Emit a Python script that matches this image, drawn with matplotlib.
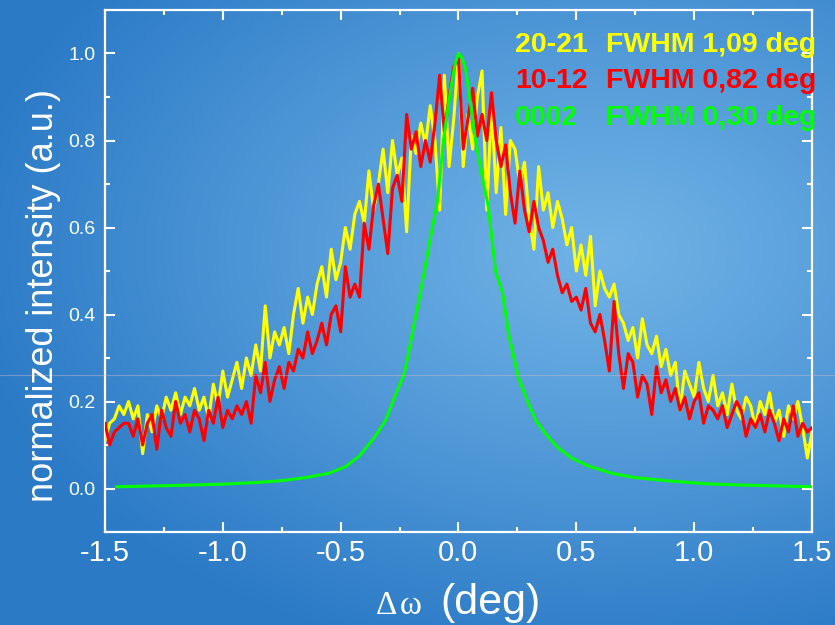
import numpy as np
import matplotlib
matplotlib.use("Agg")
import matplotlib.pyplot as plt
from matplotlib.lines import Line2D
from matplotlib.ticker import MultipleLocator

plt.rcParams["font.family"] = ["Liberation Sans", "DejaVu Sans"]
plt.rcParams["axes.unicode_minus"] = False

# omega offsets of the two broad scans (deg), step 0.02
x_scan = np.round(np.linspace(-1.5, 1.5, 151), 2)

# 20-21 reflection
y_2021 = [
    0.11, 0.15, 0.16, 0.19, 0.17, 0.20, 0.16, 0.19, 0.08, 0.17,
    0.13, 0.19, 0.16, 0.21, 0.18, 0.22, 0.17, 0.21, 0.19, 0.23,
    0.18, 0.21, 0.16, 0.24, 0.19, 0.27, 0.21, 0.25, 0.29, 0.23,
    0.30, 0.26, 0.33, 0.27, 0.42, 0.30, 0.36, 0.33, 0.37, 0.31,
    0.40, 0.46, 0.38, 0.44, 0.40, 0.47, 0.51, 0.44, 0.55, 0.48,
    0.52, 0.60, 0.55, 0.63, 0.66, 0.61, 0.73, 0.64, 0.70, 0.78,
    0.68, 0.80, 0.72, 0.76, 0.59, 0.81, 0.77, 0.84, 0.79, 0.88,
    0.80, 0.64, 0.95, 0.74, 0.85, 1.00, 0.74, 0.86, 0.78, 0.90,
    0.96, 0.64, 0.88, 0.68, 0.83, 0.63, 0.80, 0.78, 0.70, 0.75,
    0.62, 0.55, 0.74, 0.64, 0.68, 0.60, 0.66, 0.62, 0.56, 0.60,
    0.50, 0.56, 0.49, 0.58, 0.42, 0.50, 0.46, 0.44, 0.47, 0.40,
    0.38, 0.34, 0.37, 0.30, 0.39, 0.33, 0.31, 0.35, 0.28, 0.32,
    0.26, 0.29, 0.18, 0.27, 0.24, 0.21, 0.29, 0.23, 0.20, 0.26,
    0.19, 0.22, 0.17, 0.24, 0.18, 0.16, 0.21, 0.19, 0.14, 0.20,
    0.17, 0.22, 0.15, 0.18, 0.12, 0.19, 0.16, 0.20, 0.14, 0.07,
    0.13,
]

# 10-12 reflection
y_1012 = [
    0.15, 0.10, 0.13, 0.14, 0.15, 0.15, 0.12, 0.16, 0.10, 0.15,
    0.17, 0.09, 0.18, 0.14, 0.12, 0.20, 0.15, 0.17, 0.13, 0.18,
    0.16, 0.11, 0.18, 0.15, 0.21, 0.14, 0.18, 0.16, 0.19, 0.17,
    0.20, 0.15, 0.26, 0.22, 0.29, 0.20, 0.25, 0.28, 0.23, 0.29,
    0.27, 0.32, 0.30, 0.36, 0.31, 0.34, 0.38, 0.33, 0.40, 0.42,
    0.36, 0.51, 0.44, 0.47, 0.44, 0.61, 0.55, 0.65, 0.70, 0.62,
    0.54, 0.69, 0.72, 0.66, 0.86, 0.78, 0.82, 0.74, 0.80, 0.75,
    0.84, 0.95, 0.82, 0.90, 0.97, 0.99, 0.78, 0.85, 0.92, 0.81,
    0.86, 0.80, 0.91, 0.80, 0.74, 0.79, 0.68, 0.61, 0.73, 0.64,
    0.59, 0.66, 0.60, 0.57, 0.52, 0.55, 0.49, 0.45, 0.47, 0.43,
    0.44, 0.41, 0.46, 0.38, 0.36, 0.40, 0.34, 0.27, 0.43, 0.31,
    0.23, 0.31, 0.29, 0.21, 0.26, 0.24, 0.17, 0.28, 0.22, 0.25,
    0.20, 0.23, 0.18, 0.21, 0.16, 0.20, 0.22, 0.15, 0.19, 0.18,
    0.16, 0.19, 0.14, 0.17, 0.20, 0.18, 0.12, 0.16, 0.14, 0.17,
    0.13, 0.18, 0.15, 0.11, 0.16, 0.13, 0.19, 0.12, 0.15, 0.13,
    0.14,
]

# 0002 reflection (narrow)
x_0002 = [-1.45, -1.2, -1.0, -0.85, -0.75, -0.65, -0.55, -0.48, -0.42, -0.36,
          -0.31, -0.26, -0.233, -0.216, -0.195, -0.174, -0.148, -0.119, -0.089,
          -0.064, -0.034, -0.015, 0.0, 0.015, 0.03, 0.05, 0.072, 0.1, 0.127,
          0.157, 0.187, 0.212, 0.254, 0.297, 0.33, 0.369, 0.42, 0.48, 0.55,
          0.65, 0.75, 0.9, 1.05, 1.2, 1.35, 1.5]
y_0002 = [0.004, 0.007, 0.010, 0.014, 0.018, 0.025, 0.035, 0.050, 0.075, 0.115,
          0.156, 0.225, 0.26, 0.30, 0.36, 0.416, 0.49, 0.577, 0.66,
          0.80, 0.915, 0.975, 1.0, 0.99, 0.965, 0.89, 0.80, 0.72, 0.646,
          0.50, 0.45, 0.356, 0.255, 0.195, 0.155, 0.126, 0.095, 0.07, 0.052,
          0.035, 0.025, 0.017, 0.011, 0.008, 0.006, 0.004]

legend_rows = [("20-21", "FWHM 1,09 deg", "#ffff00"),
               ("10-12", "FWHM 0,82 deg", "#ff0000"),
               ("0002", "FWHM 0,30 deg", "#00ff00")]

fig = plt.figure(figsize=(8.35, 6.25), dpi=100)

# slide-like blue background
bg = fig.add_axes([0, 0, 1, 1], zorder=-10)
H, W = 625, 835
yy, xx = np.mgrid[0:H, 0:W]
d = np.clip(np.hypot((xx - 600) / 640, (yy - 250) / 420), 0, 1) ** 1.1
light = np.array([0.44, 0.70, 0.90])
dark = np.array([0.17, 0.48, 0.78])
img = light * (1 - d)[..., None] + dark * d[..., None]
bg.imshow(img, aspect="auto", extent=[0, 1, 0, 1], origin="upper")
bg.axis("off")
fig.add_artist(Line2D([0, 1], [0.4, 0.4], color="#d0b8c8", lw=0.8, alpha=0.45))

ax = fig.add_axes([0.1257, 0.1488, 0.8468, 0.8352])
ax.patch.set_alpha(0)
ax.plot(x_scan, y_2021, color="#ffff00", lw=2.2, zorder=3)
ax.plot(x_scan, y_1012, color="#ff0000", lw=2.2, zorder=4)
ax.plot(x_0002, y_0002, color="#00ff00", lw=2.2, zorder=5)

ax.set_xlim(-1.5, 1.5)
ax.set_ylim(-0.1, 1.1)
ax.xaxis.set_major_locator(MultipleLocator(0.5))
ax.xaxis.set_minor_locator(MultipleLocator(0.25))
ax.yaxis.set_major_locator(MultipleLocator(0.2))
ax.yaxis.set_minor_locator(MultipleLocator(0.1))
ax.xaxis.set_major_formatter(plt.FormatStrFormatter("%.1f"))
ax.yaxis.set_major_formatter(plt.FormatStrFormatter("%.1f"))

for s in ax.spines.values():
    s.set_color("white")
    s.set_linewidth(1.6)
ax.tick_params(which="both", direction="in", top=True, right=True,
               colors="white", width=1.5)
ax.tick_params(which="major", length=7)
ax.tick_params(which="minor", length=3.5)
ax.tick_params(axis="x", labelsize=21, pad=5)
ax.tick_params(axis="y", labelsize=14, pad=7)

fig.text(0.0515, 0.528, "normalized intensity (a.u.)", rotation=90,
         ha="center", va="center", fontsize=26, color="white")
fig.text(376 / 835, 0.0176, "Δ", family=["Liberation Serif", "DejaVu Serif"],
         fontsize=24, color="white", va="baseline")
fig.text(400 / 835, 0.0176, "ω", family=["Liberation Serif", "DejaVu Serif"],
         fontsize=24, color="white", va="baseline")
fig.text(440 / 835, 0.0176, "(deg)", fontsize=31, color="white", va="baseline")

for i, (name, fwhm, col) in enumerate(legend_rows):
    yb = [0.917, 0.859, 0.800][i]
    fig.text(515 / 835, yb, name, fontsize=20.5, fontweight="bold",
             color=col, va="baseline")
    fig.text(606 / 835, yb, fwhm, fontsize=20.5, fontweight="bold",
             color=col, va="baseline")

fig.savefig("out.png", dpi=100)
